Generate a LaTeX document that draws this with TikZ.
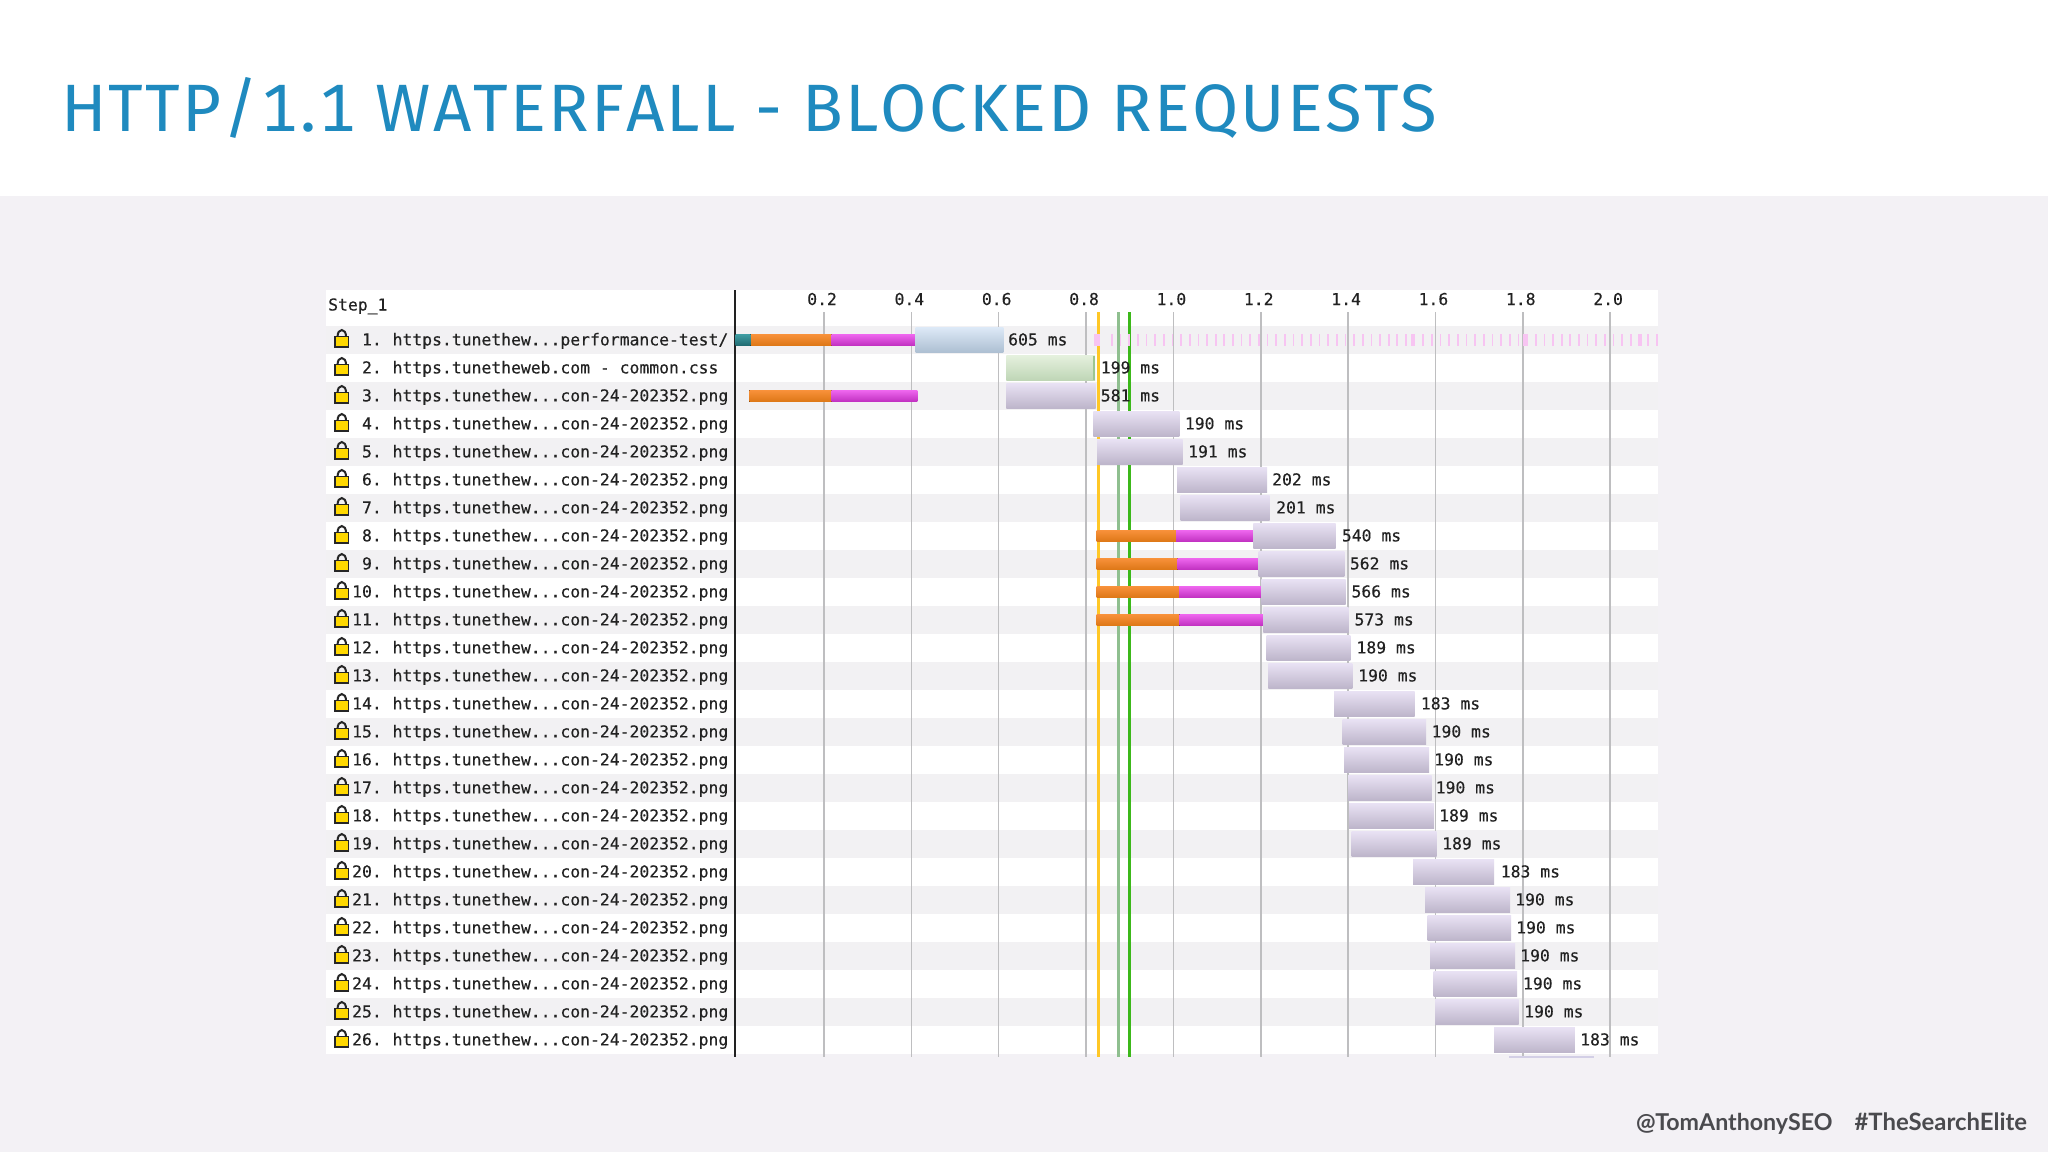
\documentclass[tikz,border=0pt]{standalone}
\usepackage{fontspec}
\setmainfont{Open Sans}
\newfontfamily\chartfont[FakeBold=0.3]{DejaVu Sans Mono}
\newfontfamily\titlefont[LetterSpace=3.2,Numbers=Monospaced,Kerning=Off]{Fira Sans}
\newfontfamily\footfont{Lato}
\usetikzlibrary{calc}
\definecolor{pagegray}{HTML}{F3F1F5}
\definecolor{rowgray}{HTML}{F2F1F3}
\definecolor{gridgray}{HTML}{BEBEC0}
\definecolor{titleblue}{HTML}{1F8ABF}
\definecolor{footgray}{HTML}{4A4A4E}
\definecolor{inktext}{HTML}{222222}
\definecolor{purpletop}{HTML}{E8E1F3}
\definecolor{purplebot}{HTML}{BDB5CA}
\definecolor{bluetop}{HTML}{DCE8F6}
\definecolor{bluebot}{HTML}{ADBFD2}
\definecolor{greentop}{HTML}{E4F0DD}
\definecolor{greenbot}{HTML}{BFD6B6}
\definecolor{greenedge}{HTML}{9CC690}
\definecolor{orangetop}{HTML}{F8913A}
\definecolor{orangebot}{HTML}{DD7716}
\definecolor{magentatop}{HTML}{EE66EE}
\definecolor{magentabot}{HTML}{C030C0}
\definecolor{tealtop}{HTML}{3F9DA3}
\definecolor{tealbot}{HTML}{206A70}
\definecolor{lockyellow}{HTML}{FFD800}
\definecolor{markyellow}{HTML}{FFC726}
\definecolor{markpale}{HTML}{8FBF8F}
\definecolor{markgreen}{HTML}{3CB81A}
\definecolor{tickpink}{HTML}{F7C4F2}
\definecolor{sliver}{HTML}{D3CFE6}
\newcommand\urlfor[1]{\ifnum#1=1 https.tunethew...performance-test/\else\ifnum#1=2 https.tunetheweb.com - common.css\else https.tunethew...con-24-202352.png\fi\fi}
\tikzset{
  chartlabel/.style={font=\chartfont\fontsize{16.4}{16.4}\selectfont, text=inktext, inner sep=0pt, anchor=base west},
  rowno/.style={font=\chartfont\fontsize{16.4}{16.4}\selectfont, text=inktext, inner sep=0pt, anchor=base east},
  axislabel/.style={font=\chartfont\fontsize{16.4}{16.4}\selectfont, text=inktext, inner sep=0pt, anchor=base},
  gridline/.style={draw=gridgray, line width=1.5pt},
  purplebox/.style={top color=purpletop, bottom color=purplebot},
  bluebox/.style={top color=bluetop, bottom color=bluebot},
  greenbox/.style={top color=greentop, bottom color=greenbot},
  orangebar/.style={top color=orangetop, bottom color=orangebot},
  magentabar/.style={top color=magentatop, bottom color=magentabot},
  tealbar/.style={top color=tealtop, bottom color=tealbot},
  marker/.style={line width=3pt},
  footlabel/.style={anchor=base west, inner sep=0pt, text=footgray},
}
\begin{document}
\begin{tikzpicture}[x=1pt,y=-1pt]
\useasboundingbox (0,0) rectangle (2048,1152);
\fill[pagegray] (0,0) rectangle (2048,1152);
\fill[white] (0,0) rectangle (2048,196);
% title
\node[anchor=base west, inner sep=0pt, text=titleblue, font=\titlefont\fontsize{67}{67}\selectfont] (title) at (61,131.2) {HTTP/1.1 WATERFALL - BLOCKED REQUESTS};
% chart ground
\fill[white] (326,290) rectangle (1658,1054);
\foreach \r in {1,3,...,25}{
  \pgfmathsetmacro\yy{340+28*(\r-1)}
  \fill[rowgray] (326,\yy-14) rectangle (1658,\yy+14);
}
% grid
\foreach \t in {0.2,0.4,0.6,0.8,1.0,1.2,1.4,1.6,1.8,2.0}{
  \pgfmathsetmacro\xx{736.7+436.7*\t}
  \draw[gridline] (\xx,312) -- (\xx,1057);
  \node[axislabel] (ax\t) at (\xx-2,305) {\t};
}
\draw[marker, draw=markyellow] (1098.3,312) -- (1098.3,1057);
\draw[marker, draw=markpale] (1118,312) -- (1118,1057);
\draw[marker, draw=markgreen] (1129.7,312) -- (1129.7,1057);
\draw[line width=1.8pt, draw=inktext] (735,290) -- (735,1057);
% step label
\node[chartlabel] (steplabel) at (328,310.5) {Step\_1};
% row 1 ticks
\fill[tickpink] (1094,334.3) rectangle (1100,345.7);
\foreach \x in {1411,1523,1638}{
  \fill[tickpink] (\x,334.3) rectangle (\x+3.5,345.7);
}
\foreach \n in {0,...,63}{
  \pgfmathsetmacro\xx{1111+8.65*\n}
  \fill[tickpink] (\xx,334.3) rectangle (\xx+1.7,345.7);
}
% rows text and locks
\foreach \r in {1,...,26}{
  \pgfmathsetmacro\yy{340+28*(\r-1)}
  \draw[line width=2pt, draw=black!85] (337.6,\yy-4) arc[start angle=180,end angle=360,x radius=4.2,y radius=6];
  \filldraw[line width=1.5pt, draw=black!85, fill=lockyellow] (335,\yy-3.6) rectangle (348.6,\yy+6.8);
  \node[rowno] (no\r) at (382,\yy+5.4) {\r.};
  \node[chartlabel] (url\r) at (392.4,\yy+5.4) {\urlfor{\r}};
}
% thin bars
\foreach \r/\a/\b/\c in {1/749.3/831.7/917.3,3/749.3/831.7/917.3,8/1096.7/1176/1254,9/1096.7/1177.7/1260,10/1096.7/1179/1261.3,11/1096.7/1179.3/1264.7}{
  \pgfmathsetmacro\yy{340+28*(\r-1)}
  \fill[orangebar] (\a,\yy-5.7) rectangle (\b,\yy+5.7);
  \fill[magentabar] (\b,\yy-5.7) rectangle (\c,\yy+5.7);
}
\fill[tealbar] (735.5,334.3) rectangle (750.7,345.7);
% boxes
\fill[bluebox] (915.7,327.7) rectangle (1003.3,352.3);
\fill[greenbox] (1006.3,355.7) rectangle (1095,380.3);
\fill[greenedge] (1093,355.7) rectangle (1095,380.3);
\node[chartlabel] (ms1) at (1008,345.4) {605 ms};
\node[chartlabel] (ms2) at (1100.6,373.4) {199 ms};
\foreach \r/\a/\b/\lx/\t in {3/1006.3/1095.7/1100.6/581,4/1093.3/1179.3/1184.7/190,5/1097/1182.7/1188/191,6/1177/1267/1272/202,7/1180.7/1269.6/1276/201,8/1253.3/1335.7/1341.7/540,9/1258.7/1344.3/1349.7/562,10/1261.3/1345.7/1351.3/566,11/1263.3/1348.7/1354.3/573,12/1266.7/1350.3/1356.3/189,13/1268.3/1352.3/1358/190,14/1334/1414.7/1420.7/183,15/1342.6/1426/1431.4/190,16/1344/1429/1434/190,17/1348/1431.5/1435.5/190,18/1349/1434/1439/189,19/1351.7/1436.7/1442/189,20/1413/1494/1500.6/183,21/1425/1510/1515/190,22/1427.5/1511/1516/190,23/1430/1515/1520/190,24/1433.6/1517/1522.8/190,25/1435/1518.5/1524/190,26/1494/1574.8/1580/183}{
  \pgfmathsetmacro\yy{340+28*(\r-1)}
  \fill[purplebox] (\a,\yy-12.3) rectangle (\b,\yy+12.3);
  \node[chartlabel] (ms\r) at (\lx,\yy+5.4) {\t{} ms};
}
\fill[sliver] (1508.5,1056) rectangle (1594,1058);
% footer
\node[footlabel, font=\footfont\bfseries\fontsize{23.2}{23.2}\selectfont] (handle) at (1636,1130) {@TomAnthonySEO};
\node[footlabel, font=\footfont\bfseries\fontsize{23.9}{23.9}\selectfont] (hashtag) at (1854.4,1130) {\#TheSearchElite};
\end{tikzpicture}
\end{document}
